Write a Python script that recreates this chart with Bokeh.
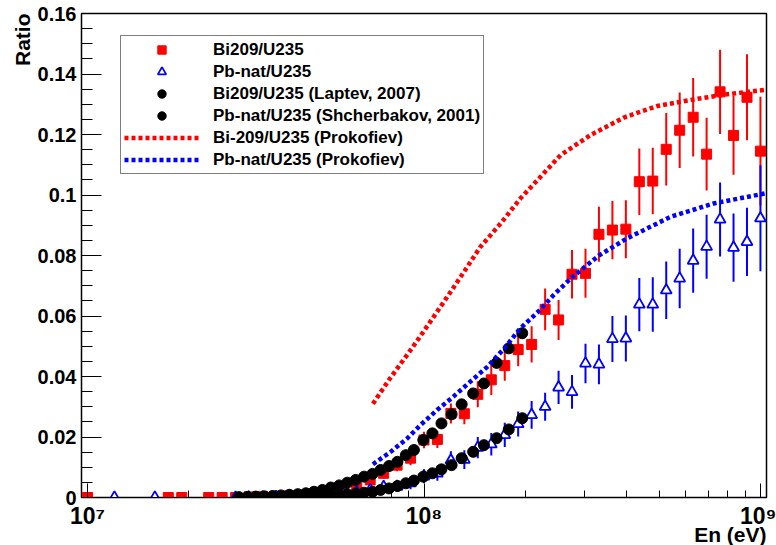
from bokeh.plotting import figure
from bokeh.models import Range1d, FixedTicker, Legend, LegendItem, Title
from bokeh.embed import file_html
from bokeh.resources import INLINE

# ---------------- data (energies in MeV, ratios) ----------------
# n_TOF Bi209/U235
bi_E = [10.0, 17.38, 19.05, 22.91, 25.12, 27.54, 30.20, 33.11, 36.31, 39.81,
        43.65, 47.86, 52.48, 57.54, 63.10, 69.18, 75.86, 83.18, 91.20, 100.0,
        109.6, 120.2, 131.8, 144.5, 158.5, 173.8, 190.5, 208.9, 229.1, 251.2,
        275.4, 302.0, 331.1, 363.1, 398.1, 436.5, 478.6, 524.8, 575.4, 631.0,
        691.8, 758.6, 831.8, 912.0, 1000.0]
bi_R = [0.0, 0.0, 0.0, 0.0, 0.0, 0.0, 0.0002, 0.0003, 0.0004, 0.0006,
        0.0008, 0.0012, 0.0017, 0.0026, 0.0041, 0.0058, 0.0080, 0.0107, 0.0130, 0.0190,
        0.0192, 0.0278, 0.0277, 0.0341, 0.0389, 0.0436, 0.0489, 0.0506, 0.0622, 0.0587,
        0.0738, 0.0741, 0.0870, 0.0884, 0.0887, 0.1044, 0.1046, 0.1151, 0.1214, 0.1257,
        0.1135, 0.1341, 0.1197, 0.1323, 0.1145]
bi_err = [0.0, 0.0, 0.0, 0.0, 0.0, 0.0003, 0.0003, 0.0004, 0.0004, 0.0005,
          0.0006, 0.0007, 0.0008, 0.0010, 0.0012, 0.0015, 0.0018, 0.0020, 0.0023, 0.0027,
          0.0028, 0.0033, 0.0035, 0.0043, 0.0050, 0.0050, 0.0055, 0.0060, 0.0069, 0.0066,
          0.0080, 0.0081, 0.0091, 0.0096, 0.0096, 0.0110, 0.0110, 0.0120, 0.0125, 0.0130,
          0.0120, 0.0139, 0.0130, 0.0142, 0.0180]

# n_TOF Pb-nat/U235
pb_E = [12.02, 15.85, 27.54, 30.20, 33.11, 36.31, 39.81,
        43.65, 47.86, 52.48, 57.54, 63.10, 69.18, 75.86, 83.18, 91.20, 100.0,
        109.6, 120.2, 131.8, 144.5, 158.5, 173.8, 190.5, 208.9, 229.1, 251.2,
        275.4, 302.0, 331.1, 363.1, 398.1, 436.5, 478.6, 524.8, 575.4, 631.0,
        691.8, 758.6, 831.8, 912.0, 1000.0]
pb_R = [0.0, 0.0, 0.0, 0.0, 0.0001, 0.0002, 0.0003,
        0.0004, 0.0006, 0.0008, 0.0012, 0.0018, 0.0025, 0.0035, 0.0036, 0.0047, 0.0070,
        0.0080, 0.0123, 0.0125, 0.0165, 0.0176, 0.0207, 0.0243, 0.0273, 0.0300, 0.0364,
        0.0349, 0.0443, 0.0440, 0.0524, 0.0526, 0.0638, 0.0638, 0.0685, 0.0724, 0.0783,
        0.0829, 0.0919, 0.0826, 0.0845, 0.0923]
pb_err = [0.0, 0.0, 0.0002, 0.0002, 0.0003, 0.0003, 0.0004,
          0.0005, 0.0006, 0.0007, 0.0008, 0.0010, 0.0012, 0.0015, 0.0017, 0.0020, 0.0023,
          0.0025, 0.0030, 0.0031, 0.0035, 0.0037, 0.0040, 0.0041, 0.0046, 0.0046, 0.0055,
          0.0056, 0.0065, 0.0066, 0.0076, 0.0076, 0.0088, 0.0090, 0.0095, 0.0098, 0.0106,
          0.0106, 0.0122, 0.0113, 0.0113, 0.0175]

# Laptev 2007 (Bi209/U235) and Shcherbakov 2001 (Pb-nat/U235)
gat_E = [28.18, 29.85, 31.62, 33.50, 35.48, 37.58, 39.81, 42.17, 44.57, 47.10,
         49.89, 52.84, 55.98, 59.16, 62.66, 66.37, 70.31, 74.30, 78.70, 83.37,
         88.31, 93.33, 99.54, 105.9, 112.7, 120.8, 129.4, 140.0, 150.7, 164.4,
         178.6, 195.9]
lap_R = [0.0001, 0.0002, 0.0003, 0.0004, 0.0005, 0.0007, 0.0009, 0.0011, 0.0014, 0.0019,
         0.0025, 0.0033, 0.0040, 0.0049, 0.0058, 0.0069, 0.0078, 0.0091, 0.0104, 0.0118,
         0.0140, 0.0157, 0.0190, 0.0212, 0.0245, 0.0275, 0.0308, 0.0344, 0.0377, 0.0445,
         0.0493, 0.0543]
shc_R = [0.0, 0.0, 0.0001, 0.0001, 0.0001, 0.0002, 0.0002, 0.0003, 0.0004, 0.0005,
         0.0006, 0.0007, 0.0009, 0.0011, 0.0013, 0.0016, 0.0019, 0.0025, 0.0030, 0.0038,
         0.0047, 0.0056, 0.0069, 0.0080, 0.0093, 0.0107, 0.0130, 0.0151, 0.0173, 0.0196,
         0.0225, 0.0262]

# Prokofiev systematics
prok_bi_E = [70.5, 79.4, 91.2, 100.0, 114.8, 128.8, 147.2, 169.0, 193.6, 217.3,
             254.7, 312.6, 392.6, 493.2, 633.9, 796.2, 1040.0]
prok_bi_R = [0.0310, 0.0395, 0.0487, 0.0551, 0.0648, 0.0731, 0.0829, 0.0906, 0.0989, 0.1049,
             0.1132, 0.1198, 0.1256, 0.1294, 0.1316, 0.1333, 0.1348]
prok_pb_E = [70.5, 79.4, 89.1, 97.7, 109.6, 122.7, 138.0, 154.2, 173.8, 193.6,
             218.8, 243.2, 275.4, 331.1, 401.8, 540.8, 726.1, 1040.0]
prok_pb_R = [0.0110, 0.0150, 0.0195, 0.0240, 0.0290, 0.0335, 0.0385, 0.0432, 0.0495, 0.0560,
             0.0615, 0.0670, 0.0728, 0.0800, 0.0857, 0.0928, 0.0972, 0.1006]

legend_labels = ["Bi209/U235", "Pb-nat/U235", "Bi209/U235 (Laptev, 2007)",
                 "Pb-nat/U235 (Shcherbakov, 2001)", "Bi-209/U235 (Prokofiev)",
                 "Pb-nat/U235 (Prokofiev)"]
y_ticks = [0.0, 0.02, 0.04, 0.06, 0.08, 0.10, 0.12, 0.14, 0.16]
y_tick_labels = ["0", "0.02", "0.04", "0.06", "0.08", "0.1", "0.12", "0.14", "0.16"]
x_ticks = [10**7, 10**8, 10**9]
x_tick_labels = ["10\u2077", "10\u2078", "10\u2079"]
x_title = "En (eV)"
y_title = "Ratio"

MeV = 1e6
def ev(lst):
    return [e * MeV for e in lst]

FONT = "Liberation Sans"

p = figure(x_axis_type="log", output_backend="svg", toolbar_location=None,
           frame_width=685, frame_height=484,
           min_border_left=81, min_border_right=10, min_border_top=13, min_border_bottom=48,
           x_range=Range1d(10**6.982, 10**9.018), y_range=Range1d(0.0, 0.16))
p.background_fill_color = "white"
p.border_fill_color = "white"
p.grid.visible = False
p.outline_line_color = "black"
p.outline_line_width = 1.5

# axes
p.xaxis.ticker = FixedTicker(ticks=x_ticks,
                             minor_ticks=[m * 10**e for e in (7, 8) for m in range(2, 10)])
p.xaxis.major_label_overrides = dict(zip(x_ticks, x_tick_labels))
p.yaxis.ticker = FixedTicker(ticks=y_ticks,
                             minor_ticks=[i * 0.005 for i in range(33)])
p.yaxis.major_label_overrides = dict(zip(y_ticks, y_tick_labels))
for ax in (p.xaxis, p.yaxis):
    ax.axis_line_color = "black"
    ax.major_tick_line_color = "black"
    ax.minor_tick_line_color = "black"
    ax.major_tick_out = 0
    ax.minor_tick_out = 0
    ax.major_label_text_font = FONT
    ax.major_label_text_font_style = "bold"
    ax.major_label_text_color = "black"
p.yaxis.major_tick_in = 20
p.yaxis.minor_tick_in = 11
p.yaxis.major_label_text_font_size = "20px"
p.yaxis.major_label_standoff = 5
p.xaxis.major_tick_in = 14
p.xaxis.minor_tick_in = 7
p.xaxis.major_label_text_font_size = "23px"
p.xaxis.major_label_standoff = 5

# axis titles as side titles, aligned to the far ends like ROOT
t_y = Title(text=y_title, align="right", text_font=FONT, text_font_style="bold",
            text_font_size="21px", text_color="black")
t_x = Title(text=x_title, align="right", text_font=FONT, text_font_style="bold",
            text_font_size="21px", text_color="black")
for t, so in ((t_y, 2), (t_x, -22)):
    try:
        t.standoff = so
    except Exception:
        pass
p.add_layout(t_y, "left")
p.add_layout(t_x, "below")

# error bars and markers
bi_lo = [r - e for r, e in zip(bi_R, bi_err)]
bi_hi = [r + e for r, e in zip(bi_R, bi_err)]
pb_lo = [r - e for r, e in zip(pb_R, pb_err)]
pb_hi = [r + e for r, e in zip(pb_R, pb_err)]

p.segment(x0=ev(bi_E), y0=bi_lo, x1=ev(bi_E), y1=bi_hi, line_color="#ff0000", line_width=2)
r_bi = p.scatter(ev(bi_E), bi_R, marker="square", size=10, fill_color="#ff0000",
                 line_color="#ff0000")
p.segment(x0=ev(pb_E), y0=pb_lo, x1=ev(pb_E), y1=pb_hi, line_color="#0000ff", line_width=2)
r_pb = p.scatter(ev(pb_E), pb_R, marker="triangle", size=11, fill_color="white",
                 line_color="#0000ff", line_width=1.8)
r_lap = p.scatter(ev(gat_E), lap_R, marker="circle", size=11, fill_color="black",
                  line_color="black")
r_shc = p.scatter(ev(gat_E), shc_R, marker="circle", size=11, fill_color="black",
                  line_color="black")
r_pbi = p.line(ev(prok_bi_E), prok_bi_R, line_color="#ff0000", line_width=4.5,
               line_dash="4 3")
r_ppb = p.line(ev(prok_pb_E), prok_pb_R, line_color="#0000ff", line_width=4.5,
               line_dash="4 3")

legend = Legend(items=[LegendItem(label=legend_labels[0], renderers=[r_bi]),
                       LegendItem(label=legend_labels[1], renderers=[r_pb]),
                       LegendItem(label=legend_labels[2], renderers=[r_lap]),
                       LegendItem(label=legend_labels[3], renderers=[r_shc]),
                       LegendItem(label=legend_labels[4], renderers=[r_pbi]),
                       LegendItem(label=legend_labels[5], renderers=[r_ppb])],
                location=(39, 323))
legend.padding = 3
legend.spacing = 1
legend.glyph_height = 21
legend.label_height = 21
legend.glyph_width = 75
legend.label_standoff = 14
legend.margin = 0
legend.border_line_color = "black"
legend.border_line_width = 1
legend.background_fill_color = "white"
legend.background_fill_alpha = 1.0
legend.label_text_font = FONT
legend.label_text_font_style = "bold"
legend.label_text_font_size = "17px"
legend.label_text_color = "black"
p.add_layout(legend)

open("out.html", "w").write(file_html(p, INLINE))
